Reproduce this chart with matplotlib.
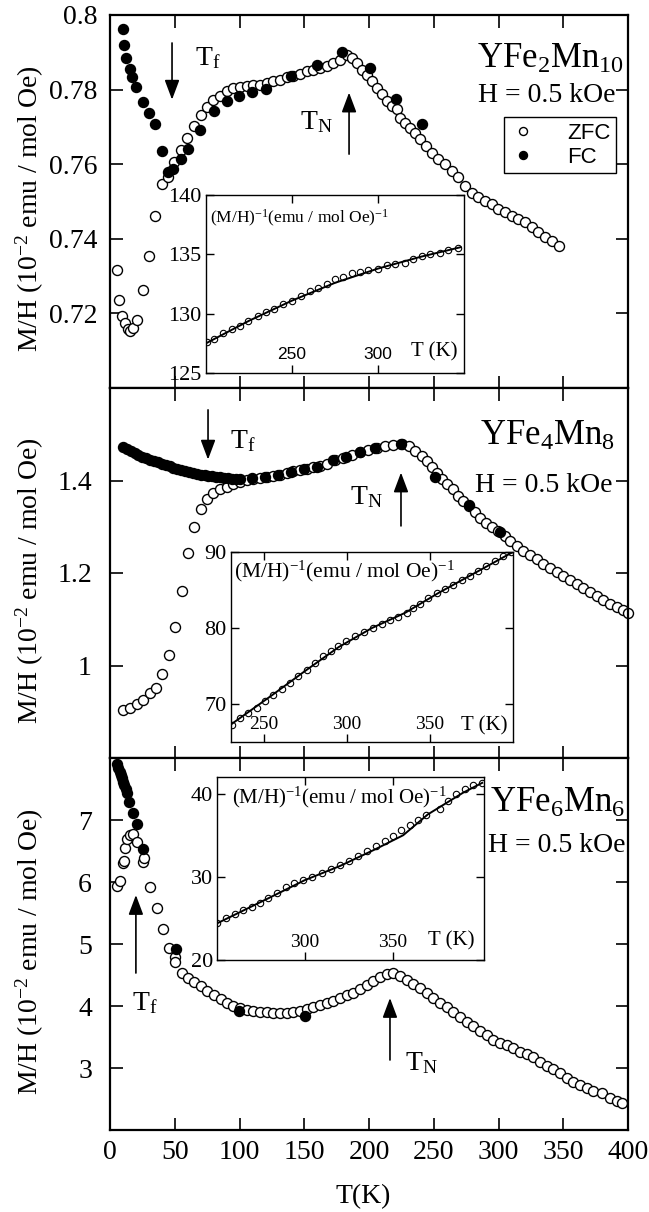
import matplotlib
matplotlib.use('Agg')
import matplotlib.pyplot as plt

plt.rcParams['font.family'] = 'Liberation Serif'
plt.rcParams['mathtext.fontset'] = 'custom'
plt.rcParams['mathtext.rm'] = 'Liberation Serif'
plt.rcParams['mathtext.it'] = 'Liberation Serif:italic'
plt.rcParams['mathtext.bf'] = 'Liberation Serif:bold'

# ---- YFe2Mn10 (top panel) ----
zfc1_T = [5.2, 6.9, 9.5, 11.6, 13.6, 15.4, 17.5, 20.6, 25.2, 30.4, 34.7, 40.4, 45.0, 49.4, 54.6, 59.7,
          65.1, 70.0, 75.1, 79.8, 84.9, 90.1, 95.2, 100.4, 105.5, 110.7, 115.8, 121.0, 126.1, 131.3,
          136.4, 141.6, 146.7, 151.9, 157.0, 162.2, 167.3, 172.4, 177.6, 182.8, 186.6, 190.5, 194.3,
          198.2, 202.0, 206.0, 209.8, 213.7, 217.5, 221.4, 223.9, 227.8, 231.7, 235.5, 239.4, 244.0,
          248.4, 253.5, 258.7, 263.9, 269.0, 274.1, 279.3, 284.4, 289.6, 294.7, 299.9, 305.0, 310.2,
          315.3, 320.5, 325.6, 330.7, 335.9, 341.1, 346.9]
zfc1_M = [0.7316, 0.7235, 0.7193, 0.7173, 0.7157, 0.7154, 0.7160, 0.7182, 0.7262, 0.7355, 0.7462,
          0.7547, 0.7565, 0.7605, 0.7638, 0.7671, 0.7702, 0.7733, 0.7754, 0.7772, 0.7784, 0.7796,
          0.7804, 0.7807, 0.7809, 0.7811, 0.7813, 0.7818, 0.7822, 0.7827, 0.7834, 0.7837, 0.7843,
          0.7849, 0.7853, 0.7858, 0.7864, 0.7871, 0.7880, 0.7893, 0.7885, 0.7871, 0.7853, 0.7840,
          0.7822, 0.7804, 0.7787, 0.7769, 0.7755, 0.7747, 0.7724, 0.7711, 0.7698, 0.7684, 0.7667,
          0.7649, 0.7631, 0.7615, 0.7600, 0.7582, 0.7565, 0.7542, 0.7524, 0.7511, 0.7502, 0.7493,
          0.7480, 0.7471, 0.7462, 0.7453, 0.7444, 0.7431, 0.7418, 0.7404, 0.7393, 0.7380]
fc1_T = [9.8, 11.0, 12.4, 15.4, 17.2, 19.8, 25.2, 30.4, 34.7, 39.9, 44.5, 48.9, 54.8, 60.5, 69.5,
         80.3, 90.6, 99.9, 109.9, 120.2, 139.8, 159.6, 178.9, 200.8, 220.8, 240.7]
fc1_M = [0.7962, 0.7920, 0.7884, 0.7856, 0.7834, 0.7807, 0.7767, 0.7736, 0.7709, 0.7635, 0.7578,
         0.7587, 0.7613, 0.7640, 0.7693, 0.7742, 0.7769, 0.7782, 0.7793, 0.7802, 0.7836, 0.7867,
         0.7900, 0.7858, 0.7775, 0.7707]
inv1_T = [200.4, 204.8, 210.0, 214.9, 219.8, 224.6, 230.0, 234.7, 239.7, 244.9, 250.2, 255.2, 260.5,
          265.3, 270.2, 275.0, 279.8, 284.7, 289.5, 294.4, 299.8, 305.0, 309.9, 315.7, 320.5, 325.4,
          330.2, 336.0, 340.9, 346.7]
inv1_M = [127.6, 127.9, 128.4, 128.7, 129.0, 129.4, 129.8, 130.1, 130.4, 130.8, 131.1, 131.5, 131.9,
          132.2, 132.5, 132.9, 133.1, 133.4, 133.5, 133.7, 133.8, 134.1, 134.2, 134.3, 134.6, 134.9,
          135.0, 135.1, 135.4, 135.5]
fit1_T = [200, 225, 250, 275, 300, 325, 348]
fit1_M = [127.5, 129.4, 131.1, 132.6, 133.8, 134.8, 135.6]

# ---- YFe4Mn8 (middle panel) ----
zfc2_T = [10.3, 15.4, 20.6, 25.7, 30.9, 35.5, 40.4, 45.6, 50.2, 55.4, 60.5, 65.1, 70.0, 75.1, 79.8,
          84.9, 90.1, 95.2, 100.4, 105.5, 110.7, 115.8, 121.0, 126.1, 131.3, 136.4, 141.6, 146.7,
          151.9, 157.0, 162.2, 167.3, 173.7, 180.2, 186.6, 193.1, 199.5, 206.0, 212.4, 218.8, 225.2,
          231.1, 235.5, 240.7, 245.0, 248.4, 252.3, 256.1, 260.0, 264.6, 269.0, 272.8, 277.5, 281.9,
          285.7, 290.3, 294.7, 299.9, 305.0, 308.9, 314.0, 319.2, 324.3, 329.5, 334.6, 339.8, 344.9,
          350.0, 355.2, 360.4, 365.5, 370.7, 375.8, 381.0, 386.1, 391.3, 396.4, 400.0]
zfc2_M = [0.9039, 0.9090, 0.9161, 0.9254, 0.9398, 0.9521, 0.9807, 1.0222, 1.0832, 1.1620, 1.2430,
          1.3004, 1.3376, 1.3591, 1.3720, 1.3806, 1.3864, 1.3914, 1.3964, 1.4007, 1.4037, 1.4058,
          1.4080, 1.4108, 1.4129, 1.4166, 1.4200, 1.4222, 1.4252, 1.4295, 1.4323, 1.4366, 1.4437,
          1.4488, 1.4559, 1.4609, 1.4667, 1.4703, 1.4738, 1.4759, 1.4789, 1.4738, 1.4630, 1.4523,
          1.4415, 1.4295, 1.4166, 1.4037, 1.3929, 1.3806, 1.3662, 1.3555, 1.3447, 1.3318, 1.3198,
          1.3090, 1.2996, 1.2910, 1.2802, 1.2695, 1.2587, 1.2480, 1.2387, 1.2301, 1.2194, 1.2101,
          1.2029, 1.1942, 1.1856, 1.1763, 1.1671, 1.1585, 1.1499, 1.1426, 1.1333, 1.1262, 1.1190,
          1.1140]
fc2_T = [10, 13, 16, 19, 22, 25, 28, 31, 34, 37, 40, 43, 46, 49, 52, 55, 58, 61, 64, 67, 70, 73, 76,
         79, 82, 85, 88, 91, 94, 97, 100, 110, 120, 130, 140, 150, 160, 172, 182, 193, 205, 225, 251,
         277, 301]
fc2_M = [1.4725, 1.4675, 1.4628, 1.4585, 1.4548, 1.4515, 1.4483, 1.4452, 1.4421, 1.4391, 1.4362,
         1.4333, 1.4305, 1.4280, 1.4255, 1.4230, 1.4207, 1.4185, 1.4165, 1.4146, 1.4129, 1.4115,
         1.4102, 1.4090, 1.4080, 1.4070, 1.4060, 1.4050, 1.4042, 1.4038, 1.4037, 1.4044, 1.4080,
         1.4125, 1.4190, 1.4240, 1.4300, 1.4440, 1.4500, 1.4610, 1.4700, 1.4800, 1.4080, 1.3462,
         1.2882]
inv2_T = [230.4, 235.4, 240.5, 245.5, 250.5, 255.5, 260.5, 265.5, 270.5, 275.6, 280.6, 285.6, 290.0,
          294.6, 299.6, 304.7, 310.2, 315.7, 320.8, 325.8, 330.8, 335.8, 339.9, 343.9, 348.9, 353.9,
          358.9, 363.9, 369.0, 374.0, 379.0, 384.0, 389.0, 394.0, 399.0]
inv2_M = [67.3, 68.1, 68.8, 69.5, 70.4, 71.2, 72.0, 72.8, 73.7, 74.5, 75.4, 76.3, 77.0, 77.6, 78.3,
          78.9, 79.5, 80.0, 80.5, 81.0, 81.5, 82.0, 82.6, 83.2, 83.9, 84.6, 85.1, 85.7, 86.3, 86.8,
          87.5, 88.2, 88.8, 89.5, 90.0]
fit2_T = [228, 255, 275, 295, 315, 335, 355, 375, 400]
fit2_M = [67.0, 71.2, 74.4, 77.5, 80.0, 82.0, 84.6, 87.0, 90.0]

# ---- YFe6Mn6 (bottom panel) ----
zfc3_T = [5.2, 7.7, 10.3, 10.8, 11.6, 12.9, 15.4, 18.0, 20.6, 25.7, 26.3, 30.9, 36.0, 40.7, 45.8,
          50.2, 50.2, 55.4, 60.5, 65.1, 70.3, 75.1, 80.3, 85.5, 90.1, 95.2, 100.4, 105.5, 110.7,
          115.8, 121.0, 126.1, 131.3, 136.4, 141.6, 146.7, 151.9, 157.0, 162.2, 167.3, 172.4, 177.6,
          182.8, 187.9, 193.1, 198.2, 203.3, 208.5, 213.7, 218.8, 223.9, 229.1, 234.2, 239.4, 244.6,
          249.7, 254.8, 260.0, 265.1, 270.3, 275.4, 280.5, 285.7, 290.9, 296.0, 301.2, 306.3, 311.4,
          316.6, 321.8, 326.9, 332.0, 337.2, 342.3, 347.5, 352.7, 357.8, 363.0, 368.1, 373.2, 379.7,
          386.1, 391.3, 395.1]
zfc3_M = [5.935, 6.016, 6.30, 6.34, 6.544, 6.69, 6.758, 6.774, 6.65, 6.327, 6.38, 5.924, 5.576,
          5.237, 4.931, 4.796, 4.715, 4.537, 4.457, 4.392, 4.323, 4.247, 4.177, 4.108, 4.053, 4.005,
          3.973, 3.935, 3.924, 3.908, 3.898, 3.882, 3.882, 3.892, 3.908, 3.924, 3.946, 3.979, 4.016,
          4.044, 4.086, 4.124, 4.177, 4.215, 4.269, 4.339, 4.408, 4.473, 4.516, 4.527, 4.484, 4.419,
          4.355, 4.285, 4.205, 4.124, 4.053, 3.989, 3.908, 3.827, 3.747, 3.677, 3.602, 3.532, 3.452,
          3.408, 3.371, 3.318, 3.263, 3.221, 3.173, 3.102, 3.037, 2.979, 2.915, 2.844, 2.779, 2.726,
          2.682, 2.634, 2.602, 2.511, 2.473, 2.440]
fc3_T = [5.2, 6.5, 7.7, 8.6, 9.5, 10.3, 11.0, 12.0, 12.9, 14.7, 18.0, 20.6, 25.7, 50.7, 99.9, 150.6]
fc3_M = [7.90, 7.84, 7.78, 7.72, 7.67, 7.62, 7.565, 7.50, 7.43, 7.295, 7.108, 6.93, 6.53, 4.915,
         3.924, 3.839]
inv3_T = [250.0, 255.0, 260.0, 265.0, 270.0, 274.5, 279.0, 284.0, 289.0, 294.0, 299.0, 304.0, 309.5,
          315.0, 320.0, 325.0, 330.0, 335.5, 340.7, 345.5, 350.0, 355.0, 359.7, 364.5, 369.0, 376.7,
          381.5, 386.0, 391.0, 395.6, 401.0]
inv3_M = [24.5, 25.0, 25.5, 26.0, 26.4, 26.9, 27.4, 28.1, 28.8, 29.2, 29.6, 30.0, 30.4, 30.9, 31.4,
          31.9, 32.5, 33.1, 33.7, 34.3, 34.9, 35.6, 36.2, 36.8, 37.4, 38.2, 39.1, 40.0, 40.5, 41.0,
          41.3]
fit3_T = [250, 280, 300, 320, 340, 356, 370, 390, 401]
fit3_M = [24.4, 27.5, 29.6, 31.3, 33.3, 35.0, 37.5, 40.1, 41.3]

W, H = 649, 1212
fig = plt.figure(figsize=(W / 100, H / 100), dpi=100)


def px_axes(left, top, right, bottom):
    return fig.add_axes([left / W, (H - bottom) / H, (right - left) / W, (bottom - top) / H])


def style_main(ax, ylim, yticks, ylabels, ypad, show_x):
    ax.set_xlim(0, 400)
    ax.set_ylim(*ylim)
    ax.set_xticks(range(0, 401, 50))
    ax.set_yticks(yticks)
    ax.set_yticklabels(ylabels)
    ax.tick_params(direction='in', length=9, width=1.2, top=True, right=True,
                   labelsize=20, pad=ypad)
    ax.tick_params(axis='x', pad=7, labelbottom=show_x)
    for s in ax.spines.values():
        s.set_linewidth(1.6)
    ax.text(-0.155, 0.48, 'M/H (10$^{-2}$ emu / mol Oe)', transform=ax.transAxes,
            rotation=90, ha='center', va='center', fontsize=20)


def style_inset(ax, xlim, ylim, xticks, yticks, sans):
    ax.set_xlim(*xlim)
    ax.set_ylim(*ylim)
    ax.set_xticks(xticks)
    ax.set_yticks(yticks)
    ax.tick_params(direction='in', length=6, width=1, top=True, right=True)
    ax.tick_params(axis='y', labelsize=16, pad=3)
    ax.tick_params(axis='x', pad=-19)
    for lab in ax.get_xticklabels():
        if sans:
            lab.set_fontfamily('Liberation Sans')
            lab.set_fontsize(12.5)
        else:
            lab.set_fontsize(14)
    for s in ax.spines.values():
        s.set_linewidth(1.0)


def arrow(ax, x, y0, y1):
    ax.annotate('', xy=(x, y1), xytext=(x, y0),
                arrowprops=dict(arrowstyle='-|>,head_length=1.2,head_width=0.45',
                                mutation_scale=10, color='k', lw=1.2, shrinkA=0, shrinkB=0))


open_kw = dict(ls='none', marker='o', mfc='white', mec='k', ms=7.2, mew=1.0, clip_on=False)
fill_kw = dict(ls='none', marker='o', mfc='k', mec='k', ms=7.2, mew=1.0, clip_on=False)
inv_kw = dict(ls='none', marker='o', mfc='none', mec='k', ms=4.6, mew=0.8)

# top panel
ax1 = px_axes(110, 15, 628, 388)
ax1.plot(zfc1_T, zfc1_M, label='ZFC', **open_kw)
ax1.plot(fc1_T, fc1_M, label='FC', **fill_kw)
style_main(ax1, (0.70, 0.80), [0.72, 0.74, 0.76, 0.78, 0.80],
           ['0.72', '0.74', '0.76', '0.78', '0.8'], 9, False)
arrow(ax1, 47.9, 0.7925, 0.7773)
arrow(ax1, 184.6, 0.7627, 0.7792)
ax1.text(65.6, 0.7867, 'T$_\\mathrm{f}$', fontsize=20, va='baseline')
ax1.text(146.7, 0.7693, 'T$_\\mathrm{N}$', fontsize=20, va='baseline')
ax1.text(0.709, 0.858, 'YFe$_2$Mn$_{10}$', transform=ax1.transAxes, fontsize=25, va='baseline')
ax1.text(0.710, 0.767, 'H = 0.5 kOe', transform=ax1.transAxes, fontsize=20, va='baseline')
leg = ax1.legend(loc='upper left', bbox_to_anchor=(0.7606, 0.7265), frameon=True, fancybox=False,
                 edgecolor='k', framealpha=1, prop={'family': 'Liberation Sans', 'size': 16},
                 handlelength=1.2, handletextpad=1.4, borderpad=0.25, labelspacing=0.15,
                 markerscale=0.8, borderaxespad=0)
leg.get_frame().set_linewidth(1.0)

# middle panel
ax2 = px_axes(110, 388, 628, 758)
ax2.plot(zfc2_T, zfc2_M, **open_kw)
ax2.plot(fc2_T, fc2_M, **fill_kw)
style_main(ax2, (0.8, 1.6), [1.0, 1.2, 1.4], ['1', '1.2', '1.4'], 13, False)
arrow(ax2, 75.7, 1.5527, 1.4452)
arrow(ax2, 224.7, 1.3018, 1.4172)
ax2.text(92.7, 1.471, 'T$_\\mathrm{f}$', fontsize=20, va='baseline')
ax2.text(185.3, 1.3485, 'T$_\\mathrm{N}$', fontsize=20, va='baseline')
ax2.text(0.714, 0.846, 'YFe$_4$Mn$_8$', transform=ax2.transAxes, fontsize=25, va='baseline')
ax2.text(0.705, 0.719, 'H = 0.5 kOe', transform=ax2.transAxes, fontsize=20, va='baseline')

# bottom panel
ax3 = px_axes(110, 758, 628, 1130)
ax3.plot(zfc3_T, zfc3_M, **open_kw)
ax3.plot(fc3_T, fc3_M, **fill_kw)
style_main(ax3, (2, 8), [3, 4, 5, 6, 7], ['3', '4', '5', '6', '7'], 13, True)
arrow(ax3, 20.0, 4.532, 5.79)
arrow(ax3, 216.2, 3.129, 4.129)
ax3.text(17.0, 3.935, 'T$_\\mathrm{f}$', fontsize=20, va='baseline')
ax3.text(227.8, 2.968, 'T$_\\mathrm{N}$', fontsize=20, va='baseline')
ax3.text(0.734, 0.855, 'YFe$_6$Mn$_6$', transform=ax3.transAxes, fontsize=25, va='baseline')
ax3.text(0.730, 0.747, 'H = 0.5 kOe', transform=ax3.transAxes, fontsize=20, va='baseline')
fig.text(363 / W, 1 - 1197 / H, 'T(K)', fontsize=20, ha='center', va='center')

inv_label = '(M/H)$^{-1}$(emu / mol Oe)$^{-1}$'

# insets
in1 = px_axes(206, 195, 464, 373)
in1.plot(fit1_T, fit1_M, color='k', lw=1.4)
in1.plot(inv1_T, inv1_M, **inv_kw)
style_inset(in1, (200, 350), (125, 140), [250, 300], [125, 130, 135, 140], True)
in1.text(0.016, 0.843, inv_label, transform=in1.transAxes, fontsize=12.5)
in1.text(0.973, 0.09, 'T (K)', transform=in1.transAxes, fontsize=15, ha='right', va='baseline')

in2 = px_axes(231, 552, 513, 742)
in2.plot(fit2_T, fit2_M, color='k', lw=1.4)
in2.plot(inv2_T, inv2_M, **inv_kw)
style_inset(in2, (230, 400), (65, 90), [250, 300, 350], [70, 80, 90], False)
in2.text(0.01, 0.868, inv_label, transform=in2.transAxes, fontsize=15.5)
in2.text(0.979, 0.06, 'T (K)', transform=in2.transAxes, fontsize=15, ha='right', va='baseline')

in3 = px_axes(217, 777, 484, 960)
in3.plot(fit3_T, fit3_M, color='k', lw=1.4)
in3.plot(inv3_T, inv3_M, **inv_kw)
style_inset(in3, (250, 402), (20, 42), [300, 350], [20, 30, 40], False)
in3.text(0.056, 0.858, inv_label, transform=in3.transAxes, fontsize=15)
in3.text(0.965, 0.08, 'T (K)', transform=in3.transAxes, fontsize=15, ha='right', va='baseline')

fig.savefig('out.png', dpi=100)
